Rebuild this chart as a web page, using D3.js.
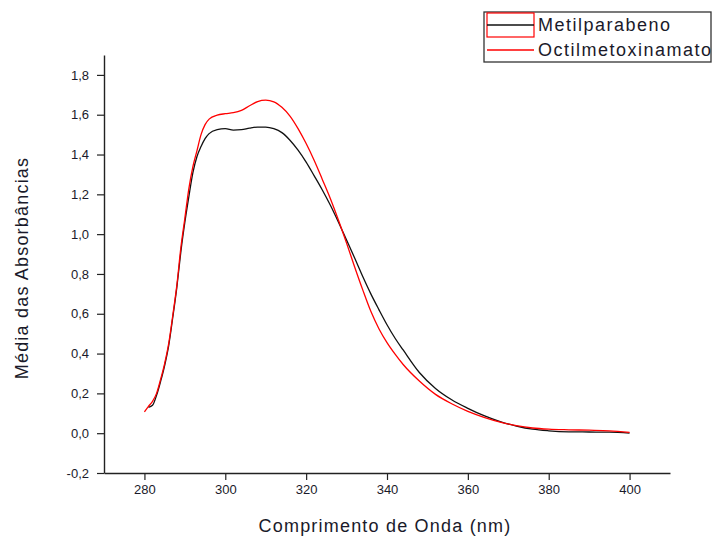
<!DOCTYPE html>
<html lang="pt">
<head>
<meta charset="UTF-8">
<title>Média das Absorbâncias</title>
<script src="https://d3js.org/d3.v7.min.js"></script>
<style>
body {margin: 0; background: #fff;}
svg {display: block;}
text {font-family: Arial, "Liberation Sans", sans-serif; fill: #1a1a2a;}
</style>
</head>
<body>
<svg width="713" height="538"></svg>
<script>
// comprimento de onda (nm)
var lambda = [280, 281, 282, 283, 284, 285, 286, 287, 288, 289, 290, 291, 292, 293, 294, 295, 296,
  298, 300, 302, 304, 306, 308, 310, 312, 314, 316, 318, 320, 322, 324, 326, 328, 330, 332, 334,
  336, 338, 340, 342, 344, 348, 352, 356, 360, 364, 368, 372, 376, 380, 385, 390, 395, 400];

var metilparabeno = [null, 0.13, 0.14, 0.19, 0.26, 0.34, 0.44, 0.58, 0.73, 0.91, 1.06, 1.19, 1.31,
  1.39, 1.44, 1.48, 1.505, 1.525, 1.53, 1.523, 1.525, 1.533, 1.538, 1.538, 1.53, 1.51, 1.472, 1.422,
  1.362, 1.293, 1.222, 1.145, 1.06, 0.97, 0.88, 0.787, 0.70, 0.621, 0.545, 0.477, 0.418, 0.305, 0.225,
  0.168, 0.125, 0.088, 0.058, 0.036, 0.02, 0.012, 0.007, 0.006, 0.005, 0.0];

var octilmetoxinamato = [0.107, 0.135, 0.16, 0.20, 0.27, 0.35, 0.45, 0.59, 0.74, 0.93, 1.08, 1.23,
  1.34, 1.42, 1.50, 1.55, 1.578, 1.598, 1.605, 1.61, 1.622, 1.645, 1.666, 1.673, 1.665, 1.637, 1.593,
  1.53, 1.455, 1.37, 1.275, 1.178, 1.07, 0.955, 0.835, 0.72, 0.612, 0.525, 0.455, 0.397, 0.345, 0.262,
  0.195, 0.148, 0.11, 0.08, 0.056, 0.038, 0.026, 0.02, 0.017, 0.015, 0.012, 0.004];

var xTicks = [280, 300, 320, 340, 360, 380, 400];
var xMinor = [270, 290, 310, 330, 350, 370, 390, 410];
var yTicks = [-0.2, 0, 0.2, 0.4, 0.6, 0.8, 1.0, 1.2, 1.4, 1.6, 1.8];
var yMinor = [-0.1, 0.1, 0.3, 0.5, 0.7, 0.9, 1.1, 1.3, 1.5, 1.7, 1.9];

var series = [
  {name: "Metilparabeno", values: metilparabeno, color: "#111"},
  {name: "Octilmetoxinamato", values: octilmetoxinamato, color: "#ff0000"}
];

var svg = d3.select("svg");
var xs = d3.scaleLinear().domain([270, 410]).range([104, 670]);
var ys = d3.scaleLinear().domain([-0.2, 1.9]).range([473, 55]);
var fmt = function(d) { return d3.format(".1f")(d).replace(".", ",").replace("−", "-"); };

// eixos
var gx = svg.append("g").attr("transform", "translate(0,473)");
gx.call(d3.axisBottom(xs).tickValues(xMinor).tickSize(4).tickFormat(""));
gx.call(d3.axisBottom(xs).tickValues(xTicks).tickSize(7).tickSizeOuter(0).tickPadding(5).tickFormat(d3.format("d")));
var gy = svg.append("g").attr("transform", "translate(104,0)");
gy.call(d3.axisLeft(ys).tickValues(yMinor).tickSize(4).tickFormat(""));
gy.call(d3.axisLeft(ys).tickValues(yTicks).tickSize(7).tickSizeOuter(0).tickPadding(8).tickFormat(fmt));

svg.selectAll(".domain").attr("stroke", "#222").attr("stroke-width", 1.4);
svg.selectAll(".tick line").attr("stroke", "#222").attr("stroke-width", 1.2);
svg.selectAll(".tick text").style("font-size", "13px").style("fill", "#1a1a2a")
  .style("font-family", "Arial, 'Liberation Sans', sans-serif");

// curvas
var line = d3.line()
  .defined(function(d) { return d[1] != null; })
  .x(function(d) { return xs(d[0]); })
  .y(function(d) { return ys(d[1]); })
  .curve(d3.curveMonotoneX);

series.forEach(function(s) {
  svg.append("path")
    .datum(lambda.map(function(l, i) { return [l, s.values[i]]; }))
    .attr("d", line)
    .attr("fill", "none")
    .attr("stroke", s.color)
    .attr("stroke-width", 1.3);
});

// títulos dos eixos
svg.append("text")
  .attr("x", 385).attr("y", 532)
  .attr("text-anchor", "middle")
  .style("font-size", "18px").style("letter-spacing", "1.2px")
  .text("Comprimento de Onda (nm)");

svg.append("text")
  .attr("transform", "translate(28,268) rotate(-90)")
  .attr("text-anchor", "middle")
  .style("font-size", "18px").style("letter-spacing", "1.2px")
  .text("Média das Absorbâncias");

// legenda
var lg = svg.append("g");
lg.append("rect").attr("x", 484).attr("y", 12).attr("width", 227).attr("height", 50)
  .attr("fill", "#fff").attr("stroke", "#333").attr("stroke-width", 1.3);
lg.append("rect").attr("x", 487).attr("y", 13).attr("width", 47).attr("height", 24)
  .attr("fill", "none").attr("stroke", "#ff0000").attr("stroke-width", 1.2);
series.forEach(function(s, i) {
  var yy = 25 + i * 25;
  lg.append("line").attr("x1", 487).attr("x2", 534).attr("y1", yy).attr("y2", yy)
    .attr("stroke", s.color).attr("stroke-width", 1.3);
  lg.append("text").attr("x", 538).attr("y", yy + 6)
    .style("font-size", "18px").style("letter-spacing", "1.5px")
    .text(s.name);
});
</script>
</body>
</html>
